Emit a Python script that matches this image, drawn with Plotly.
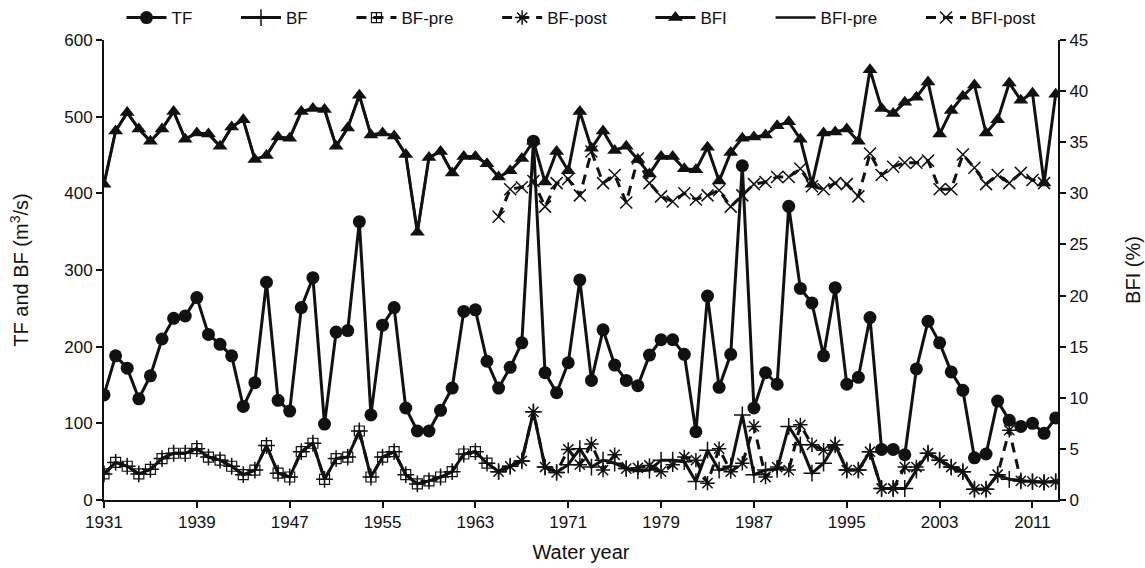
import plotly.graph_objects as go

years = list(range(1931, 2014))

tf = [137, 188, 172, 132, 162, 210, 237, 240, 264, 216, 203, 188, 122, 153, 284, 130, 116, 251, 290, 99,
      219, 221, 363, 111, 228, 251, 120, 90, 90, 117, 146, 246, 248, 181, 146, 173, 205, 468, 166, 140,
      179, 287, 156, 222, 176, 156, 149, 189, 209, 209, 190, 89, 266, 147, 190, 436, 120, 166, 151, 383,
      276, 257, 188, 277, 151, 160, 238, 66, 66, 59, 171, 233, 205, 167, 143, 55, 60, 129, 104, 96,
      100, 87, 107]

bf = [34, 49, 44, 34, 40, 54, 61, 61, 67, 56, 52, 44, 33, 39, 71, 35, 30, 63, 74, 27,
      54, 56, 90, 30, 56, 63, 33, 21, 25, 30, 37, 60, 63, 48, 37, 44, 51, 115, 43, 36,
      46, 67, 43, 52, 48, 41, 38, 39, 52, 52, 50, 24, 65, 39, 44, 111, 33, 39, 40, 96,
      72, 35, 48, 72, 39, 39, 63, 15, 15, 15, 39, 61, 52, 43, 37, 14, 14, 33, 27, 25,
      24, 23, 24]

pre_years = list(range(1931, 1965))
bf_pre = [34, 49, 44, 34, 40, 54, 61, 61, 67, 56, 52, 44, 33, 39, 71, 35, 30, 63, 74, 27,
          54, 56, 90, 30, 56, 63, 33, 21, 25, 30, 37, 60, 63, 48]

post_years = list(range(1965, 2014))
bf_post = [37, 44, 51, 115, 43, 36, 66, 46, 73, 39, 59, 41, 42, 45, 37, 46, 56, 52, 22, 67,
           37, 48, 96, 30, 43, 39, 98, 72, 65, 72, 39, 39, 63, 15, 15, 43, 43, 61, 52, 43,
           37, 14, 14, 33, 91, 25, 24, 23, 24]

bfi = [30.9, 36.1, 37.9, 36.3, 35.1, 36.3, 38.0, 35.3, 35.9, 35.8, 34.6, 36.5, 37.2, 33.3, 33.7,
       35.5, 35.4, 38.0, 38.3, 38.2, 34.6, 36.4, 39.6, 35.7, 35.9, 35.6, 33.8, 26.2, 33.5, 34.1,
       32.0, 33.6, 33.6, 32.9, 31.6, 32.2, 33.4, 35.1, 31.1, 34.1, 32.2, 38.0, 34.4, 36.1, 34.2,
       34.6, 33.3, 31.9, 33.6, 33.6, 32.4, 32.3, 34.5, 31.2, 34.0, 35.4, 35.5, 35.7, 36.6, 37.0,
       35.3, 30.9, 35.9, 36.0, 36.3, 35.1, 42.1, 38.3, 37.8, 38.9, 39.4, 40.9, 35.8, 38.1, 39.5,
       40.6, 35.9, 37.2, 40.8, 39.1, 39.8, 31.0, 39.7]

bfi_pre = [30.9, 36.1, 37.9, 36.3, 35.1, 36.3, 38.0, 35.3, 35.9, 35.8, 34.6, 36.5, 37.2, 33.3, 33.7,
           35.5, 35.4, 38.0, 38.3, 38.2, 34.6, 36.4, 39.6, 35.7, 35.9, 35.6, 33.8, 26.2, 33.5, 34.1,
           32.0, 33.6, 33.6, 32.9]

bfi_post_years = list(range(1965, 2013))
bfi_post = [27.7, 30.4, 30.6, 31.2, 28.7, 31.0, 31.4, 29.8, 34.1, 31.0, 31.8, 29.1, 33.4, 31.0, 29.7,
            29.2, 30.0, 29.4, 29.8, 30.3, 28.7, 29.8, 30.9, 31.1, 31.6, 31.6, 32.4, 30.7, 30.4, 31.0,
            30.9, 29.7, 33.9, 31.8, 32.6, 33.0, 33.0, 33.2, 30.4, 30.4, 33.8, 32.5, 30.9, 31.8, 31.0,
            32.0, 31.3, 31.0]

x_ticks = [1931, 1939, 1947, 1955, 1963, 1971, 1979, 1987, 1995, 2003, 2011]

K = "#111111"
DASH = "10px,7px"
FONT = "Liberation Sans, Arial, sans-serif"
PAD = "\u2003\u2003\u00a0"  # spacing between legend entries

fig = go.Figure()
fig.add_trace(go.Scatter(x=years, y=tf, name="TF" + PAD, mode="lines+markers",
                         line=dict(color=K, width=3),
                         marker=dict(symbol="circle", size=13, color=K)))
fig.add_trace(go.Scatter(x=years, y=bf, name="BF" + PAD, mode="lines+markers",
                         line=dict(color=K, width=3),
                         marker=dict(symbol="cross-thin-open", size=12, color=K,
                                     line=dict(color=K, width=1.5))))
fig.add_trace(go.Scatter(x=pre_years, y=bf_pre, name="BF-pre" + PAD, mode="lines+markers",
                         line=dict(color=K, width=3, dash=DASH),
                         marker=dict(symbol="square-cross-open", size=10, color=K,
                                     line=dict(color=K, width=1.2))))
fig.add_trace(go.Scatter(x=post_years, y=bf_post, name="BF-post" + PAD, mode="lines+markers",
                         line=dict(color=K, width=3, dash=DASH),
                         marker=dict(symbol="asterisk-open", size=12, color=K,
                                     line=dict(color=K, width=1.5))))
fig.add_trace(go.Scatter(x=years, y=bfi, name="BFI" + PAD, mode="lines+markers", yaxis="y2",
                         line=dict(color=K, width=3),
                         marker=dict(symbol="triangle-up", size=13, color=K)))
fig.add_trace(go.Scatter(x=pre_years, y=bfi_pre, name="BFI-pre" + PAD, mode="lines", yaxis="y2",
                         line=dict(color=K, width=2.5)))
fig.add_trace(go.Scatter(x=bfi_post_years, y=bfi_post, name="BFI-post", mode="lines+markers",
                         yaxis="y2",
                         line=dict(color=K, width=3, dash=DASH),
                         marker=dict(symbol="x-thin-open", size=12, color=K,
                                     line=dict(color=K, width=1.5))))

axis_common = dict(showgrid=False, zeroline=False, showline=True, linecolor=K, linewidth=2,
                   ticks="outside", tickcolor=K, ticklen=6, tickwidth=2,
                   tickfont=dict(family=FONT, size=17, color=K))

fig.update_layout(
    width=1145, height=568,
    margin=dict(l=104, r=87, t=40, b=68, autoexpand=False),
    plot_bgcolor="white", paper_bgcolor="white",
    font=dict(family=FONT, size=17, color=K),
    showlegend=True,
    legend=dict(orientation="h", x=0.5, xanchor="center", y=1.0, yanchor="top",
                yref="container",
                font=dict(family=FONT, size=17, color=K), bgcolor="rgba(0,0,0,0)",
                itemwidth=40, tracegroupgap=0),
    xaxis=dict(range=[1931, 2013.2], tickmode="array", tickvals=x_ticks,
               title=dict(text="Water year", font=dict(family=FONT, size=20, color=K), standoff=14),
               **axis_common),
    yaxis=dict(range=[0, 600], tickmode="array", tickvals=[0, 100, 200, 300, 400, 500, 600],
               title=dict(text="TF and BF (m<sup>3</sup>/s)", font=dict(family=FONT, size=20, color=K),
                          standoff=30),
               **axis_common),
    yaxis2=dict(range=[0, 45], overlaying="y", side="right", anchor="x",
                tickmode="array", tickvals=[0, 5, 10, 15, 20, 25, 30, 35, 40, 45],
                title=dict(text="BFI (%)", font=dict(family=FONT, size=20, color=K), standoff=39),
                **axis_common),
)

fig.write_html("out.html")
